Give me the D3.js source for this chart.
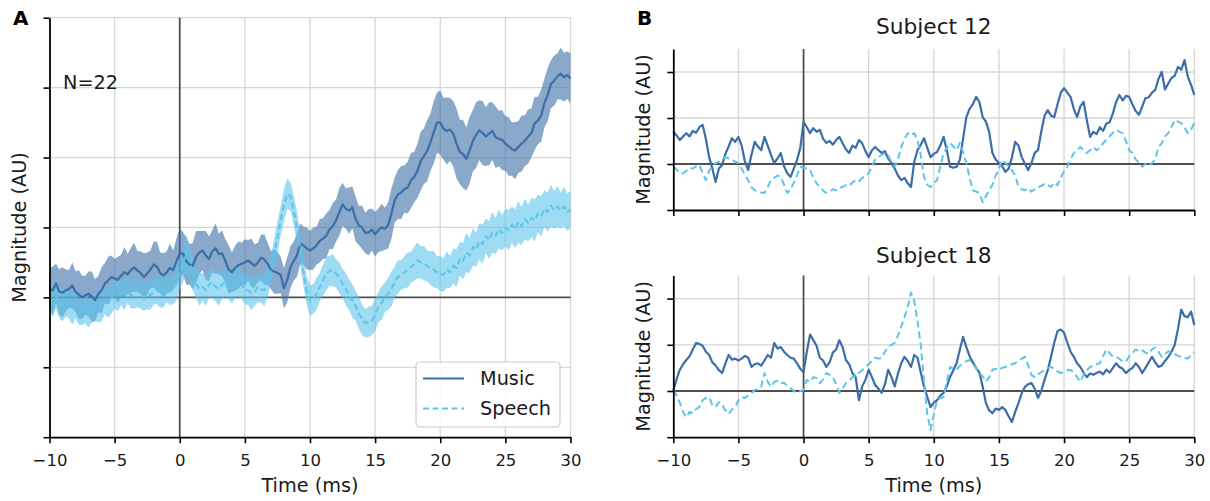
<!DOCTYPE html>
<html>
<head>
<meta charset="utf-8">
<script src="https://cdn.jsdelivr.net/npm/d3@7"></script>
<style>
  body { margin: 0; background: #fff; }
  svg { display: block; font-family: "DejaVu Sans", sans-serif; }
</style>
</head>
<body>
<svg id="fig" width="1210" height="501"></svg>
<script>
// ---- Data: responses sampled every 0.25 ms from -10 ms to 30 ms (161 samples) ----
const timeTicks = [-10, -5, 0, 5, 10, 15, 20, 25, 30];
const seriesNames = ["Music", "Speech"];
const groupLabel = "N=22";
const subjectTitles = ["Subject 12", "Subject 18"];
const panelLetters = ["A", "B"];
const sampleStart = -10, sampleStep = 0.25, sampleCount = 161;

// Group average (A), mean and standard error
const avgMusic = [
  0.12,0.10,0.20,0.08,0.07,0.10,0.12,0.17,0.08,0.04,0.00,0.03,0.05,0.01,-0.04,0.05,0.10,0.20,0.24,0.29,0.27,
  0.25,0.31,0.36,0.33,0.39,0.43,0.38,0.35,0.29,0.34,0.40,0.47,0.44,0.35,0.31,0.36,0.42,0.39,0.52,0.63,
  0.63,0.52,0.47,0.45,0.58,0.64,0.67,0.60,0.55,0.66,0.70,0.62,0.63,0.52,0.40,0.36,0.42,0.46,0.48,0.50,
  0.53,0.49,0.45,0.50,0.57,0.54,0.48,0.39,0.37,0.35,0.32,0.13,0.25,0.43,0.52,0.60,0.77,0.74,0.70,0.67,
  0.70,0.74,0.81,0.84,0.88,0.97,1.02,1.10,1.22,1.33,1.27,1.24,1.29,1.12,1.03,1.00,0.92,0.93,0.97,0.90,
  0.96,1.00,0.98,1.03,1.20,1.39,1.47,1.50,1.55,1.57,1.67,1.72,1.81,1.95,2.02,2.10,2.22,2.36,2.50,2.50,
  2.41,2.38,2.40,2.34,2.20,2.08,2.05,1.98,2.10,2.24,2.32,2.39,2.35,2.30,2.34,2.38,2.29,2.27,2.25,2.20,
  2.16,2.12,2.10,2.15,2.20,2.24,2.30,2.35,2.49,2.53,2.60,2.78,2.90,3.05,3.10,3.16,3.20,3.15,3.18,3.13
];
const avgMusicErr = [
  0.30,0.34,0.28,0.32,0.36,0.30,0.27,0.33,0.29,0.35,0.31,0.28,0.32,0.36,0.30,0.26,0.33,0.29,0.34,0.31,0.28,
  0.33,0.30,0.36,0.29,0.32,0.35,0.28,0.31,0.34,0.30,0.27,0.33,0.36,0.29,0.32,0.30,0.35,0.28,0.33,0.36,
  0.30,0.34,0.29,0.33,0.37,0.31,0.28,0.35,0.32,0.30,0.36,0.29,0.33,0.31,0.35,0.28,0.32,0.34,0.30,0.33,
  0.29,0.35,0.31,0.28,0.33,0.36,0.30,0.27,0.32,0.30,0.26,0.29,0.32,0.30,0.28,0.31,0.29,0.27,0.30,0.28,
  0.30,0.27,0.31,0.29,0.32,0.28,0.33,0.30,0.34,0.31,0.29,0.33,0.30,0.32,0.28,0.31,0.29,0.33,0.30,0.32,
  0.31,0.34,0.30,0.33,0.36,0.32,0.35,0.38,0.34,0.37,0.40,0.36,0.39,0.42,0.40,0.44,0.41,0.45,0.43,0.46,
  0.44,0.48,0.45,0.47,0.50,0.46,0.49,0.45,0.48,0.44,0.47,0.43,0.46,0.42,0.45,0.41,0.44,0.40,0.43,0.39,
  0.42,0.38,0.41,0.37,0.40,0.36,0.39,0.35,0.38,0.34,0.37,0.35,0.38,0.34,0.36,0.33,0.37,0.35,0.34,0.36
];
const avgSpeech = [
  0.00,-0.05,0.02,-0.08,-0.10,-0.06,-0.12,-0.15,-0.10,-0.18,-0.20,-0.14,-0.22,-0.18,-0.12,-0.16,-0.10,-0.05,-0.08,0.00,0.04,
  0.02,0.08,0.05,0.12,0.02,0.06,0.10,0.04,0.00,0.06,0.03,0.08,0.12,0.05,0.10,0.14,0.08,0.12,0.20,0.35,
  0.48,0.62,0.50,0.32,0.20,0.12,0.15,0.10,0.18,0.22,0.15,0.12,0.18,0.22,0.16,0.14,0.20,0.24,0.18,0.12,
  0.10,0.06,0.08,0.15,0.12,0.10,0.22,0.40,0.62,0.85,1.10,1.32,1.48,1.45,1.25,1.00,0.68,0.35,0.10,-0.05,
  -0.02,0.05,0.15,0.25,0.34,0.38,0.39,0.34,0.28,0.20,0.12,0.04,-0.05,-0.12,-0.22,-0.32,-0.37,-0.35,-0.33,-0.25,
  -0.14,-0.08,0.00,0.05,0.12,0.22,0.29,0.32,0.36,0.39,0.43,0.48,0.53,0.50,0.49,0.45,0.42,0.40,0.36,0.34,
  0.32,0.40,0.36,0.45,0.42,0.55,0.52,0.64,0.60,0.72,0.68,0.80,0.76,0.88,0.82,0.93,0.88,0.98,0.92,1.00,
  0.96,1.04,0.98,1.08,1.02,1.12,1.06,1.14,1.10,1.20,1.16,1.27,1.22,1.31,1.25,1.30,1.24,1.30,1.22,1.26
];
const avgSpeechErr = [
  0.20,0.23,0.19,0.22,0.25,0.21,0.18,0.24,0.20,0.22,0.19,0.23,0.21,0.18,0.22,0.20,0.24,0.19,0.21,0.23,0.20,
  0.22,0.19,0.23,0.20,0.18,0.22,0.24,0.20,0.19,0.23,0.21,0.18,0.22,0.20,0.24,0.21,0.19,0.22,0.25,0.23,
  0.26,0.28,0.25,0.23,0.21,0.24,0.20,0.22,0.19,0.23,0.21,0.24,0.20,0.22,0.19,0.23,0.21,0.24,0.20,0.22,
  0.21,0.24,0.20,0.22,0.19,0.23,0.21,0.20,0.22,0.24,0.21,0.23,0.22,0.20,0.21,0.23,0.22,0.20,0.21,0.22,
  0.21,0.23,0.20,0.22,0.24,0.21,0.23,0.20,0.22,0.21,0.23,0.22,0.24,0.21,0.23,0.22,0.20,0.22,0.21,0.23,
  0.22,0.24,0.21,0.23,0.25,0.22,0.24,0.21,0.23,0.25,0.22,0.24,0.26,0.23,0.25,0.22,0.24,0.26,0.23,0.25,
  0.24,0.26,0.23,0.25,0.27,0.24,0.26,0.28,0.25,0.27,0.24,0.26,0.28,0.25,0.27,0.29,0.26,0.28,0.25,0.27,
  0.29,0.26,0.28,0.30,0.27,0.29,0.26,0.28,0.30,0.27,0.29,0.26,0.28,0.30,0.27,0.29,0.26,0.28,0.27,0.26
];

// Single subjects (B)
const s12Music = [
  0.70,0.62,0.52,0.60,0.67,0.60,0.72,0.68,0.80,0.85,0.55,0.15,-0.10,-0.39,-0.10,-0.02,0.22,0.38,0.56,0.48,0.59,
  0.40,0.05,-0.13,0.20,0.48,0.38,0.30,0.59,0.40,0.20,0.02,0.12,0.24,-0.05,-0.20,-0.28,-0.10,0.09,0.35,0.91,
  0.80,0.67,0.78,0.70,0.74,0.55,0.46,0.50,0.42,0.52,0.59,0.45,0.32,0.24,0.40,0.35,0.52,0.45,0.28,0.15,
  0.30,0.37,0.30,0.24,0.28,0.12,0.02,-0.10,-0.25,-0.35,-0.30,-0.42,-0.50,0.05,0.30,0.42,0.56,0.35,0.15,0.22,
  0.26,0.40,0.59,0.30,-0.06,-0.08,-0.06,0.09,0.55,1.02,1.20,1.30,1.46,1.35,1.02,0.92,0.70,0.24,0.10,0.02,
  -0.05,-0.17,-0.10,0.15,0.48,0.40,0.15,0.00,-0.13,0.02,0.24,0.30,0.70,1.05,1.17,1.05,1.02,1.30,1.55,1.65,
  1.55,1.46,1.20,1.02,1.25,1.35,0.95,0.59,0.70,0.65,0.80,0.72,0.88,0.91,1.10,1.35,1.50,1.38,1.48,1.46,
  1.30,1.15,1.07,1.25,1.43,1.45,1.55,1.61,1.85,2.00,1.62,1.75,1.87,1.92,2.11,2.05,2.26,1.90,1.72,1.50
];
const s12Speech = [
  -0.06,-0.12,-0.20,-0.20,-0.15,-0.08,-0.10,-0.05,-0.02,-0.20,-0.35,-0.15,-0.05,0.02,0.05,0.10,0.15,0.12,0.09,0.05,0.02,
  -0.10,-0.25,-0.35,-0.50,-0.57,-0.60,-0.62,-0.63,-0.50,-0.35,-0.30,-0.25,-0.28,-0.45,-0.63,-0.55,-0.41,-0.25,-0.06,-0.08,
  -0.10,-0.13,-0.30,-0.42,-0.50,-0.58,-0.63,-0.60,-0.55,-0.57,-0.52,-0.50,-0.46,-0.48,-0.40,-0.35,-0.38,-0.30,-0.28,-0.20,
  -0.05,0.10,0.15,0.20,0.24,0.18,0.05,-0.06,0.10,0.37,0.55,0.67,0.62,0.67,0.52,0.20,-0.28,-0.45,-0.50,-0.42,
  -0.35,-0.05,0.24,0.35,0.46,0.38,0.30,0.46,0.25,0.02,-0.30,-0.57,-0.60,-0.63,-0.83,-0.70,-0.57,-0.45,-0.25,-0.10,
  0.09,0.02,-0.05,-0.13,-0.25,-0.50,-0.55,-0.57,-0.52,-0.60,-0.55,-0.50,-0.48,-0.43,-0.45,-0.50,-0.40,-0.46,-0.30,-0.15,
  -0.06,0.10,0.24,0.30,0.37,0.30,0.24,0.30,0.37,0.30,0.35,0.45,0.52,0.60,0.68,0.74,0.70,0.67,0.50,0.30,
  0.24,0.10,0.02,-0.06,0.00,-0.04,0.02,0.10,0.37,0.45,0.60,0.67,0.80,0.96,0.92,0.89,0.80,0.67,0.75,0.89
];
const s18Music = [
  0.02,0.25,0.46,0.58,0.67,0.75,0.90,1.04,1.02,0.98,0.85,0.78,0.62,0.55,0.45,0.39,0.60,0.78,0.68,0.70,0.66,
  0.70,0.76,0.72,0.52,0.58,0.60,0.55,0.66,0.78,0.72,1.04,0.92,0.95,0.85,0.78,0.72,0.70,0.60,0.48,0.41,
  0.85,1.22,1.10,0.98,0.72,0.66,0.52,0.62,0.83,0.90,1.10,0.95,0.67,0.58,0.39,0.30,-0.20,0.10,0.24,0.46,
  0.30,0.13,0.05,-0.04,0.15,0.46,0.30,0.10,0.38,0.60,0.74,0.65,0.52,0.78,0.72,0.40,0.10,-0.13,-0.35,-0.25,
  -0.20,-0.10,-0.04,0.10,0.30,0.45,0.60,0.90,1.17,0.95,0.75,0.62,0.50,0.40,0.10,-0.26,-0.42,-0.48,-0.38,-0.41,
  -0.35,-0.41,-0.55,-0.67,-0.45,-0.26,-0.05,0.09,0.15,0.17,0.05,-0.15,0.00,0.24,0.45,0.74,1.05,1.30,1.33,1.26,
  1.05,0.85,0.74,0.60,0.52,0.40,0.30,0.38,0.35,0.39,0.42,0.36,0.46,0.40,0.50,0.60,0.52,0.48,0.39,0.45,
  0.50,0.60,0.52,0.39,0.50,0.62,0.74,0.62,0.52,0.55,0.65,0.74,0.85,1.00,1.35,1.76,1.62,1.60,1.72,1.43
];
const s18Speech = [
  0.02,-0.10,-0.25,-0.45,-0.57,-0.45,-0.48,-0.39,-0.35,-0.20,-0.15,-0.13,-0.30,-0.35,-0.24,-0.30,-0.42,-0.50,-0.40,-0.35,-0.20,
  -0.13,-0.15,-0.10,-0.05,0.02,0.05,0.09,0.39,0.20,0.09,0.20,0.22,0.17,0.18,0.10,0.06,0.00,-0.04,0.00,0.02,
  0.24,0.20,0.30,0.28,0.17,0.25,0.39,0.35,0.30,0.15,-0.04,0.05,0.17,0.22,0.30,0.33,0.39,0.45,0.52,0.58,
  0.65,0.72,0.70,0.72,0.85,0.96,1.00,1.04,1.20,1.39,1.60,1.83,2.13,1.95,1.50,1.00,0.20,-0.50,-0.85,-0.50,
  -0.20,-0.15,-0.13,0.20,0.52,0.48,0.46,0.55,0.60,0.65,0.67,0.58,0.50,0.40,0.32,0.20,0.30,0.46,0.48,0.45,
  0.50,0.52,0.55,0.58,0.60,0.65,0.70,0.74,0.55,0.35,0.30,0.36,0.41,0.45,0.50,0.52,0.48,0.42,0.39,0.42,
  0.45,0.46,0.40,0.30,0.20,0.35,0.45,0.52,0.55,0.58,0.60,0.75,0.90,0.82,0.74,0.74,0.70,0.64,0.64,0.75,
  0.82,0.90,0.86,0.88,0.83,0.80,0.90,0.94,0.85,0.74,0.80,0.86,0.84,0.80,0.76,0.74,0.72,0.70,0.78,0.83
];

[avgMusic, avgMusicErr, avgSpeech, avgSpeechErr, s12Music, s12Speech, s18Music, s18Speech].forEach((a, i) => {
  if (a.length !== sampleCount) throw new Error("series " + i + " has " + a.length + " samples");
});
const timeMs = d3.range(sampleCount).map(i => sampleStart + i * sampleStep);

// ---- Styling ----
const COLORS = { music: "#3b6ea7", speech: "#5cc5e9", grid: "#d6d6d6", zero: "#4f4f4f" };
const svg = d3.select("#fig");

function makeAxes(box, yDomain, yTicks, showXLabels) {
  const x = d3.scaleLinear().domain([-10, 30]).range([box.left, box.right]);
  const y = d3.scaleLinear().domain(yDomain).range([box.bottom, box.top]);
  const g = svg.append("g");

  // grid
  g.append("g").selectAll("line").data(timeTicks.filter(t => t !== 0 && t !== -10)).join("line")
    .attr("x1", d => x(d)).attr("x2", d => x(d)).attr("y1", box.top).attr("y2", box.bottom)
    .attr("stroke", COLORS.grid).attr("stroke-width", 1.3);
  g.append("g").selectAll("line").data(yTicks.filter(v => v !== 0 && v !== yDomain[0])).join("line")
    .attr("x1", box.left).attr("x2", box.right).attr("y1", d => y(d)).attr("y2", d => y(d))
    .attr("stroke", COLORS.grid).attr("stroke-width", 1.3);

  // zero reference lines
  g.append("line").attr("x1", x(0)).attr("x2", x(0)).attr("y1", box.top).attr("y2", box.bottom)
    .attr("stroke", COLORS.zero).attr("stroke-width", 1.8);
  g.append("line").attr("x1", box.left).attr("x2", box.right).attr("y1", y(0)).attr("y2", y(0))
    .attr("stroke", COLORS.zero).attr("stroke-width", 1.8);

  const marks = svg.append("g");

  // axes (spines on left and bottom)
  const xAxis = d3.axisBottom(x).tickValues(timeTicks).tickSize(6).tickSizeOuter(0).tickPadding(11);
  if (!showXLabels) xAxis.tickFormat("");
  const ax = svg.append("g").attr("transform", `translate(0,${box.bottom})`).call(xAxis);
  const yAxis = d3.axisLeft(y).tickValues(yTicks).tickSize(6).tickSizeOuter(0).tickFormat("");
  const ay = svg.append("g").attr("transform", `translate(${box.left},0)`).call(yAxis);
  [ax, ay].forEach(a => {
    a.select(".domain").attr("stroke", "#000").attr("stroke-width", 1.8);
    a.selectAll(".tick line").attr("stroke", "#000").attr("stroke-width", 1.6);
    a.selectAll(".tick text").attr("font-size", 16.5).attr("fill", "#1a1a1a")
      .attr("font-family", "DejaVu Sans, sans-serif");
  });
  return { x, y, marks };
}

function band(ax, mean, err, color, opacity) {
  const area = d3.area()
    .x((d, i) => ax.x(timeMs[i]))
    .y0((d, i) => ax.y(mean[i] - err[i]))
    .y1((d, i) => ax.y(mean[i] + err[i]));
  ax.marks.append("path").datum(mean).attr("d", area)
    .attr("fill", color).attr("fill-opacity", opacity).attr("stroke", "none");
}

function trace(ax, values, color, dash, width) {
  const line = d3.line().x((d, i) => ax.x(timeMs[i])).y(d => ax.y(d));
  ax.marks.append("path").datum(values).attr("d", line)
    .attr("fill", "none").attr("stroke", color).attr("stroke-width", width)
    .attr("stroke-linejoin", "round")
    .attr("stroke-dasharray", dash || null);
}

function yLabel(xPos, yMid) {
  svg.append("text").attr("transform", `translate(${xPos},${yMid}) rotate(-90)`)
    .attr("text-anchor", "middle").attr("font-size", 19.3).attr("fill", "#1a1a1a")
    .text("Magnitude (AU)");
}
function xLabel(xMid) {
  svg.append("text").attr("x", xMid).attr("y", 492).attr("text-anchor", "middle")
    .attr("font-size", 19.3).attr("fill", "#1a1a1a").text("Time (ms)");
}

// ---- Panel A: group average ----
const boxA = { left: 49.5, right: 570.5, top: 17.7, bottom: 437.2 };
const A = makeAxes(boxA, [-2, 4], [-2, -1, 0, 1, 2, 3, 4], true);
band(A, avgMusic, avgMusicErr, COLORS.music, 0.6);
band(A, avgSpeech, avgSpeechErr, COLORS.speech, 0.6);
trace(A, avgMusic, COLORS.music, null, 2.2);
trace(A, avgSpeech, COLORS.speech, "6,3.5", 2.0);
yLabel(26, (boxA.top + boxA.bottom) / 2);
xLabel((boxA.left + boxA.right) / 2);
svg.append("text").attr("x", 63).attr("y", 88.5).attr("font-size", 19.3).attr("fill", "#1a1a1a").text(groupLabel);

// legend
const lg = svg.append("g");
lg.append("rect").attr("x", 416).attr("y", 362).attr("width", 144).attr("height", 65)
  .attr("rx", 4).attr("fill", "#fff").attr("fill-opacity", 0.85).attr("stroke", "#cccccc").attr("stroke-width", 1.2);
const legendRows = [
  { name: seriesNames[0], color: COLORS.music, dash: null, y: 378.5 },
  { name: seriesNames[1], color: COLORS.speech, dash: "6,3.5", y: 408.5 }
];
legendRows.forEach(r => {
  lg.append("line").attr("x1", 423).attr("x2", 464).attr("y1", r.y).attr("y2", r.y)
    .attr("stroke", r.color).attr("stroke-width", 2.2).attr("stroke-dasharray", r.dash);
  lg.append("text").attr("x", 480).attr("y", r.y + 6.8).attr("font-size", 19.3)
    .attr("fill", "#1a1a1a").text(r.name);
});

// ---- Panel B: single subjects ----
const boxB1 = { left: 673.3, right: 1194.3, top: 49, bottom: 210 };
const boxB2 = { left: 673.3, right: 1194.3, top: 275.5, bottom: 437.2 };
const B1 = makeAxes(boxB1, [-1, 2.5], [-1, 0, 1, 2], false);
trace(B1, s12Music, COLORS.music, null, 2.2);
trace(B1, s12Speech, COLORS.speech, "7,4", 2.0);
const B2 = makeAxes(boxB2, [-1, 2.5], [-1, 0, 1, 2], true);
trace(B2, s18Music, COLORS.music, null, 2.2);
trace(B2, s18Speech, COLORS.speech, "7,4", 2.0);

[[boxB1, subjectTitles[0], 34], [boxB2, subjectTitles[1], 262.5]].forEach(([b, t, yy]) => {
  svg.append("text").attr("x", (b.left + b.right) / 2).attr("y", yy).attr("text-anchor", "middle")
    .attr("font-size", 21.7).attr("fill", "#1a1a1a").text(t);
  yLabel(650, (b.top + b.bottom) / 2);
});
xLabel((boxB2.left + boxB2.right) / 2);

// panel letters
svg.append("text").attr("x", 13).attr("y", 25).attr("font-size", 20).attr("font-weight", "bold").text(panelLetters[0]);
svg.append("text").attr("x", 637).attr("y", 25).attr("font-size", 20).attr("font-weight", "bold").text(panelLetters[1]);
</script>
</body>
</html>
